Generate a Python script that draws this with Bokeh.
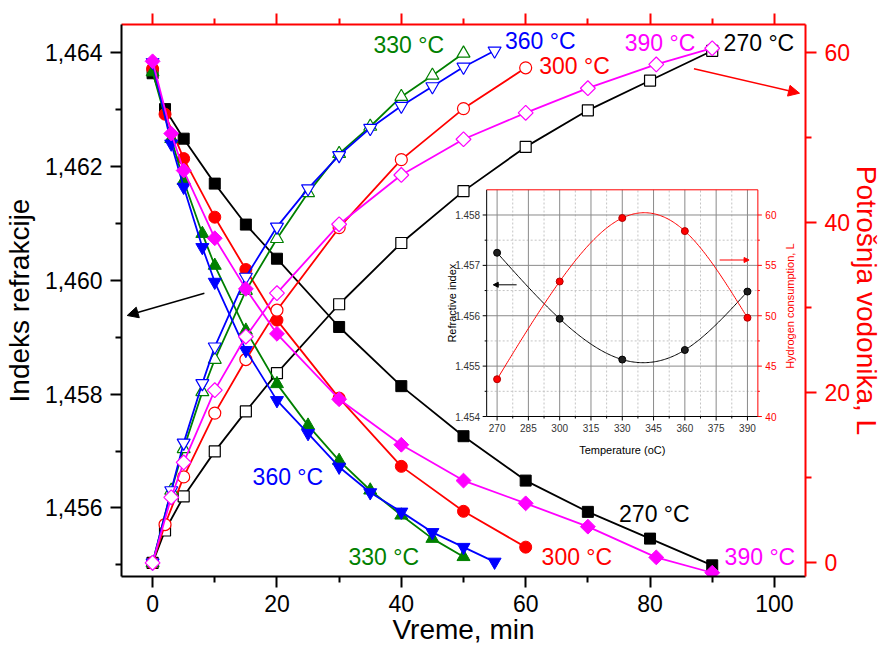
import numpy as np
from bokeh.plotting import figure
from bokeh.models import (Range1d, LinearAxis, FixedTicker, CustomJSTickFormatter,
                          Label, Arrow, NormalHead)
from bokeh.core.properties import value
from bokeh.embed import file_html
from bokeh.resources import INLINE

FONT = "Liberation Sans"

# ---------------- data (main chart) ----------------
t270 = [0, 2, 5, 10, 15, 20, 30, 40, 50, 60, 70, 80, 90]
n270 = [1.46364, 1.46301, 1.46249, 1.46170, 1.46098, 1.46038, 1.45918, 1.45814, 1.45726, 1.45648, 1.45593, 1.45546, 1.45499]
v270 = [0, 3.8, 7.8, 13.1, 17.8, 22.3, 30.4, 37.6, 43.7, 48.9, 53.2, 56.7, 60.2]

t300 = [0, 2, 5, 10, 15, 20, 30, 40, 50, 60]
n300 = [1.46372, 1.46292, 1.46214, 1.46111, 1.46019, 1.45930, 1.45793, 1.45673, 1.45594, 1.45531]
v300 = [0, 4.5, 10.1, 17.6, 23.9, 29.7, 39.4, 47.4, 53.4, 58.2]

t330 = [0, 3, 5, 8, 10, 15, 20, 25, 30, 35, 40, 45, 50]
n330 = [1.46366, 1.46249, 1.46175, 1.46082, 1.46026, 1.45912, 1.45818, 1.45745, 1.45683, 1.45631, 1.45587, 1.45546, 1.45514]
v330 = [0, 8.5, 13.4, 20.1, 23.9, 32.0, 38.1, 43.5, 48.1, 51.3, 54.8, 57.3, 59.9]

t360 = [0, 3, 5, 8, 10, 15, 20, 25, 30, 35, 40, 45, 50, 55]
n360 = [1.46383, 1.46240, 1.46164, 1.46058, 1.45997, 1.45877, 1.45789, 1.45731, 1.45672, 1.45627, 1.45593, 1.45557, 1.45531, 1.45505]
v360 = [0, 8.5, 14.1, 21.1, 25.4, 33.6, 39.5, 44.0, 47.9, 51.1, 53.7, 56.0, 58.3, 60.2]

t390 = [0, 3, 5, 10, 15, 20, 30, 40, 50, 60, 70, 81, 90]
n390 = [1.46385, 1.46258, 1.46193, 1.46074, 1.45985, 1.45906, 1.45791, 1.45711, 1.45648, 1.45608, 1.45567, 1.45513, 1.45486]
v390 = [0, 7.7, 11.8, 20.3, 26.6, 31.7, 39.8, 45.6, 49.8, 52.9, 55.8, 58.6, 60.5]

x_major = [0, 20, 40, 60, 80, 100]
x_minor = [10, 30, 50, 70, 90]
n_major = [1.456, 1.458, 1.460, 1.462, 1.464]
n_minor = [1.455, 1.457, 1.459, 1.461, 1.463]
v_major = [0, 20, 40, 60]
v_minor = [10, 30, 50]

# ---------------- data (inset) ----------------
temps = [270, 300, 330, 360, 390]
ref_idx = [1.45725, 1.45594, 1.45513, 1.45532, 1.45648]
h2_cons = [43.7, 53.4, 59.7, 58.4, 49.8]
temp_major = [270, 285, 300, 315, 330, 345, 360, 375, 390]
temp_minor = [277.5, 292.5, 307.5, 322.5, 337.5, 352.5, 367.5, 382.5]
ri_major = [1.454, 1.455, 1.456, 1.457, 1.458]
ri_minor = [1.4545, 1.4555, 1.4565, 1.4575]
h_major = [40, 45, 50, 55, 60]
h_minor = [42.5, 47.5, 52.5, 57.5]

# ---------------- layout geometry (canvas pixels) ----------------
W, H = 885, 660
FX0, FX1, FY0, FY1 = 121.0, 806.0, 24.0, 576.0          # main frame
IX0, IX1, IY0, IY1 = 486.7, 758.3, 189.3, 416.0         # inset frame
T0, T1 = 265.0, 395.0
N0, N1 = 1.454, 1.4585
H0, H1 = 40.0, 62.5
XR = (-5.0, 105.0)
NR = (1.454794, 1.464497)
VR = (-1.61, 63.29)

sx = (IX1 - IX0) / (T1 - T0)
sn = (IY1 - IY0) / (N1 - N0)
sh = (IY1 - IY0) / (H1 - H0)
mx = (FX1 - FX0) / (XR[1] - XR[0])
mv = (FY1 - FY0) / (VR[1] - VR[0])
mn = (FY1 - FY0) / (NR[1] - NR[0])


def px_t(px):
    return XR[0] + (px - FX0) / mx


def py_v(py):
    return VR[1] - (py - FY0) / mv


def py_n(py):
    return NR[1] - (py - FY0) / mn


# ---------------- main figure ----------------
p = figure(width=W, height=H, x_range=Range1d(*XR), y_range=Range1d(*NR),
           output_backend="svg", toolbar_location=None,
           min_border_left=int(FX0), min_border_right=int(W - FX1),
           min_border_top=int(FY0), min_border_bottom=int(H - FY1))
p.extra_y_ranges = {
    "right": Range1d(*VR),
    "iy": Range1d(N0 - (FY1 - IY1) / sn, N1 + (IY0 - FY0) / sn),
    "ih": Range1d(H0 - (FY1 - IY1) / sh, H1 + (IY0 - FY0) / sh),
}
p.extra_x_ranges = {"ix": Range1d(T0 - (IX0 - FX0) / sx, T1 + (FX1 - IX1) / sx)}
p.grid.visible = False
p.outline_line_color = None
p.background_fill_color = "white"
p.border_fill_color = "white"


def style_axis(ax, color, lw=2):
    ax.axis_line_color = color
    ax.axis_line_width = lw
    ax.major_tick_line_color = color
    ax.minor_tick_line_color = color
    ax.major_tick_line_width = lw
    ax.minor_tick_line_width = lw
    ax.major_tick_in = 0
    ax.minor_tick_in = 0
    ax.major_tick_out = 11
    ax.minor_tick_out = 6
    ax.major_label_text_font = FONT
    ax.major_label_text_font_size = "23px"
    ax.major_label_text_color = color
    ax.axis_label_text_font = FONT
    ax.axis_label_text_font_size = "28px"
    ax.axis_label_text_font_style = "normal"
    ax.axis_label_text_color = color


xb = p.below[0]
style_axis(xb, "black")
xb.ticker = FixedTicker(ticks=x_major, minor_ticks=x_minor)
xb.axis_label = "Vreme, min"
xb.major_label_standoff = 7
xb.axis_label_standoff = -1

yl = p.left[0]
style_axis(yl, "black")
yl.ticker = FixedTicker(ticks=n_major, minor_ticks=n_minor)
yl.formatter = CustomJSTickFormatter(code="return tick.toFixed(3).replace('.', ',');")
yl.axis_label = "Indeks refrakcije"
yl.major_label_standoff = 8
yl.axis_label_standoff = 7

xt = LinearAxis(ticker=FixedTicker(ticks=x_major, minor_ticks=x_minor),
                formatter=CustomJSTickFormatter(code="return '';"))
style_axis(xt, "red")
xt.major_label_text_font_size = "0px"
xt.major_label_standoff = 0
p.add_layout(xt, "above")

yr = LinearAxis(y_range_name="right",
                ticker=FixedTicker(ticks=v_major, minor_ticks=v_minor))
style_axis(yr, "red")
yr.axis_label = "Potrošnja vodonika, L"
yr.major_label_standoff = 8
yr.axis_label_standoff = -2
p.add_layout(yr, "right")

series = [
    ("black", t270, n270, v270, "square", 11, 0.0),
    ("red", t300, n300, v300, "circle", 12, 0.0),
    ("green", t330, n330, v330, "triangle", 13, 0.0),
    ("blue", t360, n360, v360, "inverted_triangle", 13, 0.0),
    ("magenta", t390, n390, v390, "square", 10.5, np.pi / 4),
]
for color, t, n, v, marker, size, ang in series:
    p.line(t, n, line_color=color, line_width=1.8)
    p.scatter(t, n, marker=marker, size=size, angle=ang,
              fill_color=color, line_color=color, line_width=1)
    p.line(t, v, y_range_name="right", line_color=color, line_width=1.8)
    p.scatter(t, v, y_range_name="right", marker=marker, size=size, angle=ang,
              fill_color="white", line_color=color, line_width=1.2)

labels = [
    ("330 °C", "green", 373.3, 44.2), ("360 °C", "blue", 505.0, 40.8),
    ("300 °C", "red", 539.3, 65.8), ("390 °C", "magenta", 625.0, 42.5),
    ("270 °C", "black", 724.0, 42.5),
    ("360 °C", "blue", 252.3, 476.7), ("330 °C", "green", 348.3, 556.7),
    ("300 °C", "red", 541.7, 556.7), ("270 °C", "black", 619.3, 513.0),
    ("390 °C", "magenta", 725.0, 556.7),
]
for txt, col, lx, ly in labels:
    p.add_layout(Label(x=px_t(lx), y=py_v(ly), y_range_name="right", text=txt,
                       text_color=col, text_font=FONT, text_font_size="23px",
                       text_align="left", text_baseline="middle"))

p.add_layout(Arrow(x_start=px_t(204), y_start=py_n(292.7), x_end=px_t(126.7), y_end=py_n(315),
                   line_color="black", line_width=1.5,
                   end=NormalHead(size=11, fill_color="black", line_color="black")))
p.add_layout(Arrow(x_start=px_t(694.3), y_start=py_v(68.3), x_end=px_t(800), y_end=py_v(92.7),
                   y_range_name="right", line_color="red", line_width=1.5,
                   end=NormalHead(size=11, fill_color="red", line_color="red")))


# ---------------- inset (drawn on its own ranges) ----------------
def natural_spline(x, y, num=200):
    x = np.asarray(x, float)
    y = np.asarray(y, float)
    n = len(x)
    h = np.diff(x)
    A = np.zeros((n, n))
    b = np.zeros(n)
    A[0, 0] = A[-1, -1] = 1
    for i in range(1, n - 1):
        A[i, i - 1] = h[i - 1]
        A[i, i] = 2 * (h[i - 1] + h[i])
        A[i, i + 1] = h[i]
        b[i] = 3 * ((y[i + 1] - y[i]) / h[i] - (y[i] - y[i - 1]) / h[i - 1])
    c = np.linalg.solve(A, b)
    xs = np.linspace(x[0], x[-1], num)
    ys = np.empty_like(xs)
    for k, xv in enumerate(xs):
        i = min(np.searchsorted(x, xv, side="right") - 1, n - 2)
        dx = xv - x[i]
        bi = (y[i + 1] - y[i]) / h[i] - h[i] * (2 * c[i] + c[i + 1]) / 3
        di = (c[i + 1] - c[i]) / (3 * h[i])
        ys[k] = y[i] + bi * dx + c[i] * dx ** 2 + di * dx ** 3
    return xs, ys


IN = dict(x_range_name="ix", y_range_name="iy")
IH = dict(x_range_name="ix", y_range_name="ih")

p.quad(left=[T0], right=[T1], bottom=[N0], top=[N1], fill_color="white",
       line_color=None, **IN)

# grid
p.segment(x0=temp_minor, y0=[N0] * len(temp_minor), x1=temp_minor, y1=[N1] * len(temp_minor),
          line_color="#c4c4c4", line_width=1, line_dash="2 2", **IN)
p.segment(x0=[T0] * len(ri_minor), y0=ri_minor, x1=[T1] * len(ri_minor), y1=ri_minor,
          line_color="#c4c4c4", line_width=1, line_dash="2 2", **IN)
p.segment(x0=temp_major, y0=[N0] * len(temp_major), x1=temp_major, y1=[N1] * len(temp_major),
          line_color="#8a8a8a", line_width=1, **IN)
p.segment(x0=[T0] * len(ri_major), y0=ri_major, x1=[T1] * len(ri_major), y1=ri_major,
          line_color="#8a8a8a", line_width=1, **IN)

# curves and points
cx, cy = natural_spline(temps, ref_idx)
p.line(cx, cy, line_color="black", line_width=1, **IN)
cx2, cy2 = natural_spline(temps, h2_cons)
p.line(cx2, cy2, line_color="red", line_width=1, **IH)
p.scatter(temps, ref_idx, marker="circle", size=7, fill_color="#1e1e1e",
          line_color="black", **IN)
p.scatter(temps, h2_cons, marker="circle", size=7, fill_color="red",
          line_color="#b40000", **IH)

# frame
p.segment(x0=[T0, T0], y0=[N0, N0], x1=[T0, T1], y1=[N1, N0], line_color="black", line_width=1, **IN)
p.segment(x0=[T1, T0], y0=[N0, N1], x1=[T1, T1], y1=[N1, N1], line_color="red", line_width=1, **IN)

# ticks
p.segment(x0=temp_major, y0=[N0] * len(temp_major), x1=temp_major,
          y1=[N0 - 4 / sn] * len(temp_major), line_color="black", **IN)
p.segment(x0=temp_minor, y0=[N0] * len(temp_minor), x1=temp_minor,
          y1=[N0 - 2 / sn] * len(temp_minor), line_color="black", **IN)
p.segment(x0=[T0] * len(ri_major), y0=ri_major, x1=[T0 - 4 / sx] * len(ri_major),
          y1=ri_major, line_color="black", **IN)
p.segment(x0=[T0] * len(ri_minor), y0=ri_minor, x1=[T0 - 2 / sx] * len(ri_minor),
          y1=ri_minor, line_color="black", **IN)
p.segment(x0=[T1] * len(h_major), y0=h_major, x1=[T1 + 4 / sx] * len(h_major),
          y1=h_major, line_color="red", **IH)
p.segment(x0=[T1] * len(h_minor), y0=h_minor, x1=[T1 + 2 / sx] * len(h_minor),
          y1=h_minor, line_color="red", **IH)

# tick labels
p.text(x=temp_major, y=[N0 - 11.5 / sn] * len(temp_major), text=[str(v) for v in temp_major],
       text_font=value(FONT), text_font_size=value("10px"), text_color="#333333",
       text_align="center", text_baseline="middle", **IN)
p.text(x=[T0 - 6.5 / sx] * len(ri_major), y=ri_major, text=[f"{v:.3f}" for v in ri_major],
       text_font=value(FONT), text_font_size=value("10px"), text_color="#333333",
       text_align="right", text_baseline="middle", **IN)
p.text(x=[T1 + 7.5 / sx] * len(h_major), y=h_major, text=[str(v) for v in h_major],
       text_font=value(FONT), text_font_size=value("10px"), text_color="red",
       text_align="left", text_baseline="middle", **IH)

# inset axis titles
p.add_layout(Label(x=(T0 + T1) / 2, y=N0 - 33 / sn, text="Temperature (oC)", **IN,
                   text_font=FONT, text_font_size="11px", text_color="black",
                   text_align="center", text_baseline="middle"))
p.add_layout(Label(x=T0 - (IX0 - 452) / sx, y=(N0 + N1) / 2, text="Refractive index", **IN,
                   angle=np.pi / 2, text_font=FONT, text_font_size="11px", text_color="black",
                   text_align="center", text_baseline="alphabetic"))
p.add_layout(Label(x=T1 + (790 - IX1) / sx, y=(H0 + H1) / 2 - 3 / sh, text="Hydrogen consumption, L",
                   **IH, angle=np.pi / 2, text_font=FONT, text_font_size="11px", text_color="red",
                   text_align="center", text_baseline="alphabetic"))

# inset arrows
p.add_layout(Arrow(x_start=T0 + (516.7 - IX0) / sx, y_start=N1 - (284.3 - IY0) / sn,
                   x_end=T0 + (493.3 - IX0) / sx, y_end=N1 - (284.3 - IY0) / sn, **IN,
                   line_color="black", line_width=1,
                   end=NormalHead(size=5, fill_color="black", line_color="black")))
p.add_layout(Arrow(x_start=T0 + (720 - IX0) / sx, y_start=H1 - (259.5 - IY0) / sh,
                   x_end=T0 + (749.5 - IX0) / sx, y_end=H1 - (259.5 - IY0) / sh, **IH,
                   line_color="red", line_width=1,
                   end=NormalHead(size=5, fill_color="red", line_color="red")))

open("out.html", "w").write(file_html(p, INLINE, title="Indeks refrakcije"))
